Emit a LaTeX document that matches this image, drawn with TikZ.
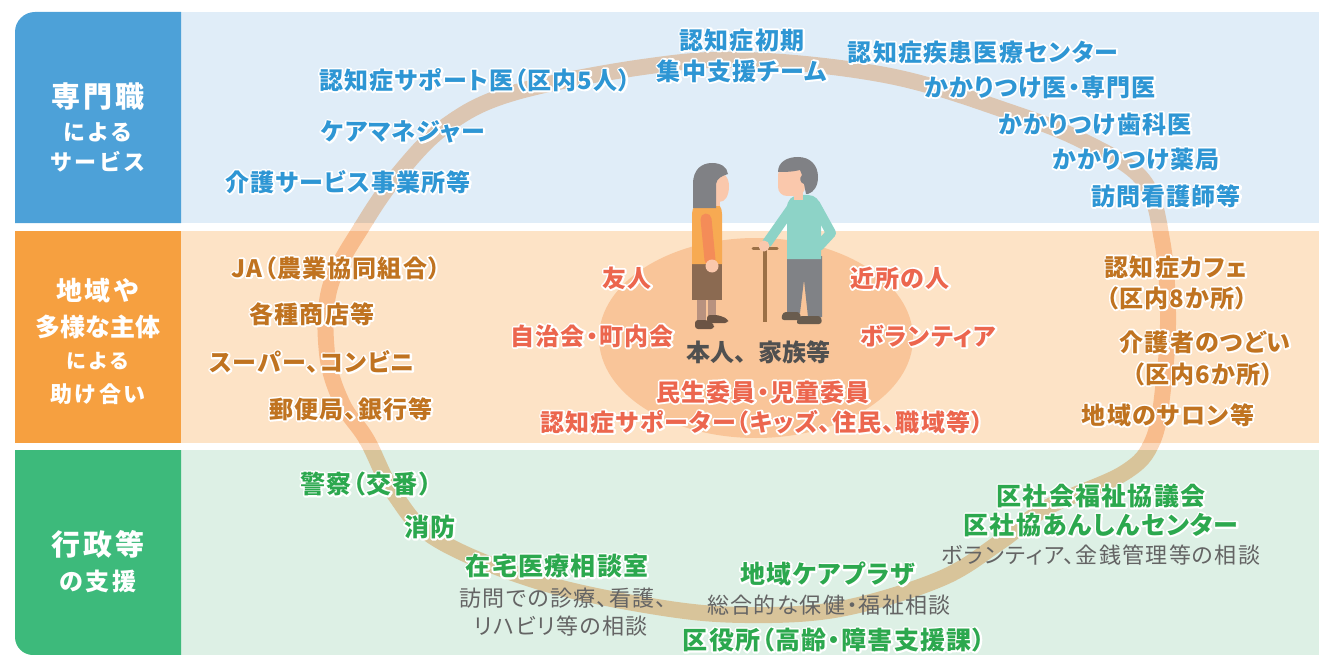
\documentclass[tikz,border=0pt]{standalone}
\usepackage{fontspec}
\setmainfont{Noto Sans CJK JP}
\newfontfamily\jpLabel{Noto Sans CJK JP}[RawFeature=+palt, LetterSpace=5]
\newfontfamily\jpHead{Noto Sans CJK JP}[LetterSpace=10]
\newfontfamily\jpPlain{Noto Sans CJK JP}[RawFeature=+palt]
\newfontfamily\jpNote{Noto Sans CJK JP}[RawFeature=+palt, LetterSpace=6]
\newfontfamily\jpSolid{Noto Sans CJK JP}
% white outline behind a label: a stroked copy, then the filled text
\newcommand\halo[1]{\leavevmode\rlap{\special{pdf:literal direct 1 Tr 3.6 w 1 j 1 1 1 RG}#1\special{pdf:literal direct 0 Tr}}#1}

% panel colours
\definecolor{boxBlue}{RGB}{77,161,216}
\definecolor{bandBlue}{RGB}{224,237,248}
\definecolor{boxOrange}{RGB}{246,160,64}
\definecolor{bandOrange}{RGB}{253,227,198}
\definecolor{boxGreen}{RGB}{61,186,123}
\definecolor{bandGreen}{RGB}{221,240,229}
% ring and centre
\definecolor{ringTop}{RGB}{220,198,178}
\definecolor{ringMid}{RGB}{248,188,140}
\definecolor{ringBot}{RGB}{216,196,154}
\definecolor{ringGap}{RGB}{250,216,188}
\definecolor{coreFill}{RGB}{249,197,153}
% text
\definecolor{txtBlue}{RGB}{46,150,212}
\definecolor{txtBrown}{RGB}{192,115,32}
\definecolor{txtSalmon}{RGB}{236,102,78}
\definecolor{txtGreen}{RGB}{44,168,78}
\definecolor{txtGray}{RGB}{100,100,100}
\definecolor{txtDark}{RGB}{80,80,80}
% figures
\definecolor{hairGray}{RGB}{128,129,133}
\definecolor{skin}{RGB}{250,200,172}
\definecolor{womanTop}{RGB}{247,170,82}
\definecolor{womanArm}{RGB}{244,140,88}
\definecolor{skirtBrown}{RGB}{139,106,81}
\definecolor{legTone}{RGB}{184,146,127}
\definecolor{shoeBrown}{RGB}{107,84,68}
\definecolor{manShirt}{RGB}{141,211,199}
\definecolor{pantsGray}{RGB}{128,130,134}
\definecolor{manShoe}{RGB}{105,92,78}
\definecolor{caneBrown}{RGB}{155,112,70}

\tikzset{
  lbl/.style={inner sep=0pt, font=\jpLabel\bfseries\fontsize{24}{28}\selectfont},
  tblue/.style={lbl, text=txtBlue},
  tbrown/.style={lbl, text=txtBrown},
  tsalmon/.style={lbl, text=txtSalmon},
  tgreen/.style={lbl, text=txtGreen, font=\jpLabel\bfseries\fontsize{25}{29}\selectfont},
  tgray/.style={inner sep=0pt, text=txtGray, font=\jpNote\fontsize{22}{26}\selectfont},
  head/.style={inner sep=0pt, text=white, font=\jpHead\bfseries},
  ringline/.style={line width=16pt},
}

\begin{document}
\begin{tikzpicture}[x=1pt,y=-1pt]
\useasboundingbox (0,0) rectangle (1319,655);

% bands
\fill[bandBlue] (181,12) rectangle (1319,223);
\fill[bandOrange] (181,231) rectangle (1319,443);
\fill[bandGreen] (181,450) rectangle (1319,655);
\fill[boxBlue] (181,223) -- (15,223) [rounded corners=20pt] -- (15,12) [sharp corners] -- (181,12) -- cycle;
\fill[boxOrange] (15,231) rectangle (181,443);
\fill[boxGreen] (181,450) -- (15,450) [rounded corners=18pt] -- (15,655) [sharp corners] -- (181,655) -- cycle;

% ring, tinted per band
\foreach \ya/\yb/\rc in {0/223/ringTop,223/231/ringGap,231/443/ringMid,443/450/ringGap,450/655/ringBot}{
  \begin{scope}
    \clip (0,\ya) rectangle (1319,\yb);
    \draw[ringline, draw=\rc] plot[smooth cycle, tension=0.6] coordinates {
      (748,60) (890,76) (1010,112) (1085,142) (1143,180) (1162,240) (1168,313)
      (1164,380) (1153,440) (1124,473) (1048,507) (1000,542) (940,579) (840,609)
      (745,615) (657,607) (540,582) (438,540) (395,495) (367,440) (342,403)
      (327,353) (330,287) (363,225) (400,172) (447,125) (513,93) (643,67)};
  \end{scope}
}

% centre disc
\fill[coreFill] (756,338) ellipse [x radius=157pt, y radius=100pt];

% woman
\fill[legTone] (697,299) rectangle (706,322);
\fill[legTone] (708,299) rectangle (716,318);
\fill[shoeBrown, rounded corners=3pt] (695,329) -- (695,320) -- (707,320) -- (714,324) -- (714,329) -- cycle;
\fill[shoeBrown, rounded corners=3pt] (707,323) -- (707,315) -- (718,315) -- (728,319) -- (728,323) -- cycle;
\fill[skirtBrown] (692,262) rectangle (722,300);
\fill[womanTop] (692,264) -- (692,214) .. controls (692,207) and (696,203) .. (703,203) -- (713,203) .. controls (719,203) and (722,207) .. (722,214) -- (722,264) -- cycle;
\draw[womanArm, line width=11pt, line cap=round] (706,219) -- (710,260);
\fill[skin] (712,266) circle (6.5pt);
\fill[skin] (712,196) rectangle (720,206);
\fill[skin] (713,172) .. controls (722,170) and (729,176) .. (729,186) .. controls (729,196) and (725,202) .. (719,202) -- (713,202) -- cycle;
\fill[hairGray] (693,208) -- (693,184) .. controls (693,169) and (702,163) .. (712,163) .. controls (721,163) and (727,167) .. (728,174) .. controls (722,176) and (717,178) .. (716,184) -- (716,208) -- cycle;

% man
\draw[caneBrown, line width=3.5pt] (765,249) -- (765,322);
\draw[caneBrown, line width=3pt, line cap=round] (753,248) -- (777,248);
\fill[pantsGray] (787,256) -- (822,256) -- (822,317) -- (808,317) -- (804,280) -- (800,313) -- (787,313) -- cycle;
\fill[manShoe, rounded corners=3pt] (781,320) -- (783,312) -- (800,312) -- (801,320) -- cycle;
\fill[manShoe, rounded corners=3pt] (796,324) -- (799,316) -- (821,316) -- (822,324) -- cycle;
\fill[manShirt] (787,259) -- (787,208) .. controls (787,200) and (792,195) .. (800,195) -- (808,195) .. controls (815,195) and (820,200) .. (821,208) -- (821,259) -- cycle;
\draw[manShirt, line width=10pt, line cap=round, line join=round] (815,204) -- (831,233) -- (819,246);
\draw[manShirt, line width=10pt, line cap=round] (793,206) -- (767,243);
\fill[skin] (764,246) circle (5.5pt);
\fill[skin] (794,188) rectangle (803,200);
\fill[skin, rounded corners=9pt] (778,166) rectangle (805,196);
\fill[hairGray] (778,172) .. controls (778,162) and (787,157) .. (798,157) .. controls (810,157) and (818,165) .. (818,177) .. controls (818,186) and (814,192) .. (808,194) -- (806,194) -- (804,184) .. controls (800,183) and (799,178) .. (802,175) -- (800,170) .. controls (792,172) and (784,172) .. (778,172) -- cycle;

% column headings
\node[head, font=\jpHead\bfseries\fontsize{29}{32}\selectfont] (hA1) at (98,97) {専門職};
\node[head, font=\jpHead\bfseries\fontsize{22}{26}\selectfont] (hA2) at (98,132) {による};
\node[head, font=\jpHead\bfseries\fontsize{22}{26}\selectfont] (hA3) at (98,162) {サービス};
\node[head, font=\jpHead\bfseries\fontsize{26}{30}\selectfont] (hB1) at (98,291) {地域や};
\node[head, font=\jpPlain\bfseries\fontsize{25}{29}\selectfont] (hB2) at (98,327) {多様な主体};
\node[head, font=\jpHead\bfseries\fontsize{20}{24}\selectfont] (hB3) at (98,361) {による};
\node[head, font=\jpHead\bfseries\fontsize{22}{26}\selectfont] (hB4) at (98,394) {助け合い};
\node[head, font=\jpHead\bfseries\fontsize{29}{32}\selectfont] (hC1) at (98,544) {行政等};
\node[head, font=\jpHead\bfseries\fontsize{24}{28}\selectfont] (hC2) at (98,581) {の支援};

% professional services
\node[tblue] (shokiA) at (742,40) {\halo{認知症初期}};
\node[tblue] (shokiB) at (742,71) {\halo{集中支援チーム}};
\node[tblue] (shikkan) at (983,52) {\halo{認知症疾患医療センター}};
\node[tblue] (kakariI) at (1040,87) {\halo{かかりつけ医・専門医}};
\node[tblue] (kakariS) at (1095,124) {\halo{かかりつけ歯科医}};
\node[tblue] (kakariY) at (1136,159) {\halo{かかりつけ薬局}};
\node[tblue] (houmon) at (1166,196) {\halo{訪問看護師等}};
\node[tblue] (support) at (475,80) {\halo{認知症サポート医（区内5人）}};
\node[tblue] (caremgr) at (403,132) {\halo{ケアマネジャー}};
\node[tblue] (kaigo) at (348,182) {\halo{介護サービス事業所等}};

% community
\node[tbrown] (ja) at (336,268) {\halo{JA（農業協同組合）}};
\node[tbrown] (shoten) at (312,314) {\halo{各種商店等}};
\node[tbrown] (super) at (312,362) {\halo{スーパー、コンビニ}};
\node[tbrown] (yubin) at (351,409) {\halo{郵便局、銀行等}};
\node[tbrown] (cafeA) at (1176,267) {\halo{認知症カフェ}};
\node[tbrown] (cafeB) at (1177,298) {\halo{（区内8か所）}};
\node[tbrown] (tsudoiA) at (1205,342) {\halo{介護者のつどい}};
\node[tbrown] (tsudoiB) at (1203,374) {\halo{（区内6か所）}};
\node[tbrown] (salon) at (1168,415) {\halo{地域のサロン等}};

% inner circle
\node[tsalmon] (yujin) at (627,278) {\halo{友人}};
\node[tsalmon] (kinjo) at (900,278) {\halo{近所の人}};
\node[tsalmon] (jichi) at (592,336) {\halo{自治会・町内会}};
\node[tsalmon] (volun) at (928,336) {\halo{ボランティア}};
\node[tsalmon] (minsei) at (763,392) {\halo{民生委員・児童委員}};
\node[tsalmon] (supporter) at (762,422) {\halo{認知症サポーター（キッズ、住民、職域等）}};
\node[inner sep=0pt, text=txtDark, font=\jpSolid\bfseries\fontsize{24}{28}\selectfont] (honnin) at (758,352) {本人、家族等};

% administration
\node[tgreen] (keisatsu) at (366,484) {\halo{警察（交番）}};
\node[tgreen] (shobo) at (430,527) {\halo{消防}};
\node[tgreen] (zaitaku) at (557,566) {\halo{在宅医療相談室}};
\node[tgray] (zaitakuA) at (563,598) {訪問での診療、看護、};
\node[tgray] (zaitakuB) at (561,626) {リハビリ等の相談};
\node[tgreen] (plaza) at (828,574) {\halo{地域ケアプラザ}};
\node[tgray] (plazaA) at (829,605) {総合的な保健・福祉相談};
\node[tgreen] (kuyakusho) at (834,640) {\halo{区役所（高齢・障害支援課）}};
\node[tgreen] (shakyoA) at (1101,496) {\halo{区社会福祉協議会}};
\node[tgreen] (shakyoB) at (1101,525) {\halo{区社協あんしんセンター}};
\node[tgray] (shakyoC) at (1101,555) {ボランティア、金銭管理等の相談};

\end{tikzpicture}
\end{document}
